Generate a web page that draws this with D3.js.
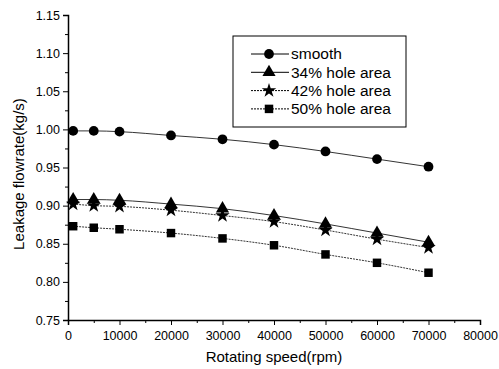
<!DOCTYPE html>
<html>
<head>
<meta charset="utf-8">
<script src="https://cdn.jsdelivr.net/npm/d3@7"></script>
<style>
  body { margin: 0; background: #fff; }
  text { font-family: "Liberation Sans", Arial, sans-serif; fill: #000; }
</style>
</head>
<body>
<div id="plot"></div>
<script>
// data
var speeds = [1000, 5000, 10000, 20000, 30000, 40000, 50000, 60000, 70000];
var smooth = [0.998, 0.998, 0.997, 0.992, 0.987, 0.980, 0.971, 0.961, 0.951];
var hole34 = [0.908, 0.908, 0.907, 0.902, 0.896, 0.887, 0.876, 0.864, 0.852];
var hole42 = [0.902, 0.900, 0.899, 0.894, 0.887, 0.879, 0.868, 0.856, 0.845];
var hole50 = [0.873, 0.871, 0.869, 0.864, 0.857, 0.848, 0.836, 0.825, 0.812];
var seriesNames = ["smooth", "34% hole area", "42% hole area", "50% hole area"];
var xTicks = [0, 10000, 20000, 30000, 40000, 50000, 60000, 70000, 80000];
var yTicks = [0.75, 0.80, 0.85, 0.90, 0.95, 1.00, 1.05, 1.10, 1.15];

var series = [
  {name: seriesNames[0], values: smooth, symbol: d3.symbolCircle, size: 75, dash: null},
  {name: seriesNames[1], values: hole34, symbol: d3.symbolTriangle, size: 75, dash: null},
  {name: seriesNames[2], values: hole42, symbol: d3.symbolStar, size: 65, dash: "2,1"},
  {name: seriesNames[3], values: hole50, symbol: d3.symbolSquare, size: 72, dash: "2,1"}
];

var margin = {top: 15, right: 19, bottom: 49, left: 68},
    width = 499 - margin.left - margin.right,
    height = 369 - margin.top - margin.bottom;

var svg = d3.select("#plot").append("svg")
    .attr("width", 499)
    .attr("height", 369)
  .append("g")
    .attr("transform", "translate(" + margin.left + "," + margin.top + ")");

var x = d3.scaleLinear().domain([0, 80000]).range([0, width]);
var y = d3.scaleLinear().domain([0.75, 1.15]).range([height, 0]);

// minor ticks
svg.append("g")
    .attr("transform", "translate(0," + height + ")")
    .call(d3.axisBottom(x).tickValues(d3.range(5000, 80000, 10000)).tickSize(3).tickFormat(""))
    .call(function(g) { g.select(".domain").remove(); });
svg.append("g")
    .call(d3.axisLeft(y).tickValues(d3.range(0.775, 1.15, 0.05)).tickSize(3).tickFormat(""))
    .call(function(g) { g.select(".domain").remove(); });

// X axis
svg.append("g")
    .attr("transform", "translate(0," + height + ")")
    .call(d3.axisBottom(x).tickValues(xTicks).tickSize(5).tickPadding(6).tickFormat(d3.format("d")))
    .call(function(g) {
      g.selectAll("text").style("font-size", "12.5px");
      g.select(".domain").attr("stroke-width", 1.5);
    });

// Y axis
svg.append("g")
    .call(d3.axisLeft(y).tickValues(yTicks).tickSize(5).tickPadding(3).tickFormat(d3.format(".2f")))
    .call(function(g) {
      g.selectAll("text").style("font-size", "12.5px");
      g.select(".domain").attr("stroke-width", 1.5);
    });

// axis labels
svg.append("text")
    .attr("x", width / 2)
    .attr("y", height + 42)
    .attr("text-anchor", "middle")
    .style("font-size", "15px")
    .text("Rotating speed(rpm)");

svg.append("text")
    .attr("transform", "rotate(-90)")
    .attr("x", -159)
    .attr("y", -44)
    .attr("text-anchor", "middle")
    .style("font-size", "15px")
    .text("Leakage flowrate(kg/s)");

// lines and points
var line = d3.line()
    .x(function(d, i) { return x(speeds[i]); })
    .y(function(d) { return y(d); })
    .curve(d3.curveMonotoneX);

series.forEach(function(s) {
  svg.append("path")
      .datum(s.values)
      .attr("fill", "none")
      .attr("stroke", "#000")
      .attr("stroke-width", 0.8)
      .attr("stroke-dasharray", s.dash)
      .attr("d", line);

  svg.append("g")
    .selectAll("path")
    .data(s.values)
    .enter()
    .append("path")
      .attr("transform", function(d, i) { return "translate(" + x(speeds[i]) + "," + y(d) + ")"; })
      .attr("d", d3.symbol().type(s.symbol).size(s.size))
      .attr("fill", "#000");
});

// legend
var legend = svg.append("g")
    .attr("transform", "translate(" + (233 - margin.left) + "," + (36 - margin.top) + ")");

legend.append("rect")
    .attr("width", 173)
    .attr("height", 91)
    .attr("fill", "#fff")
    .attr("stroke", "#000")
    .attr("stroke-width", 1);

series.forEach(function(s, i) {
  var row = legend.append("g").attr("transform", "translate(0," + (18 + i * 18.3) + ")");
  row.append("line")
      .attr("x1", 18).attr("x2", 56)
      .attr("stroke", "#000")
      .attr("stroke-width", 1)
      .attr("stroke-dasharray", s.dash);
  row.append("path")
      .attr("transform", "translate(36,0)")
      .attr("d", d3.symbol().type(s.symbol).size(s.size))
      .attr("fill", "#000");
  row.append("text")
      .attr("x", 58)
      .attr("dy", "0.35em")
      .style("font-size", "15.5px")
      .text(s.name);
});
</script>
</body>
</html>
